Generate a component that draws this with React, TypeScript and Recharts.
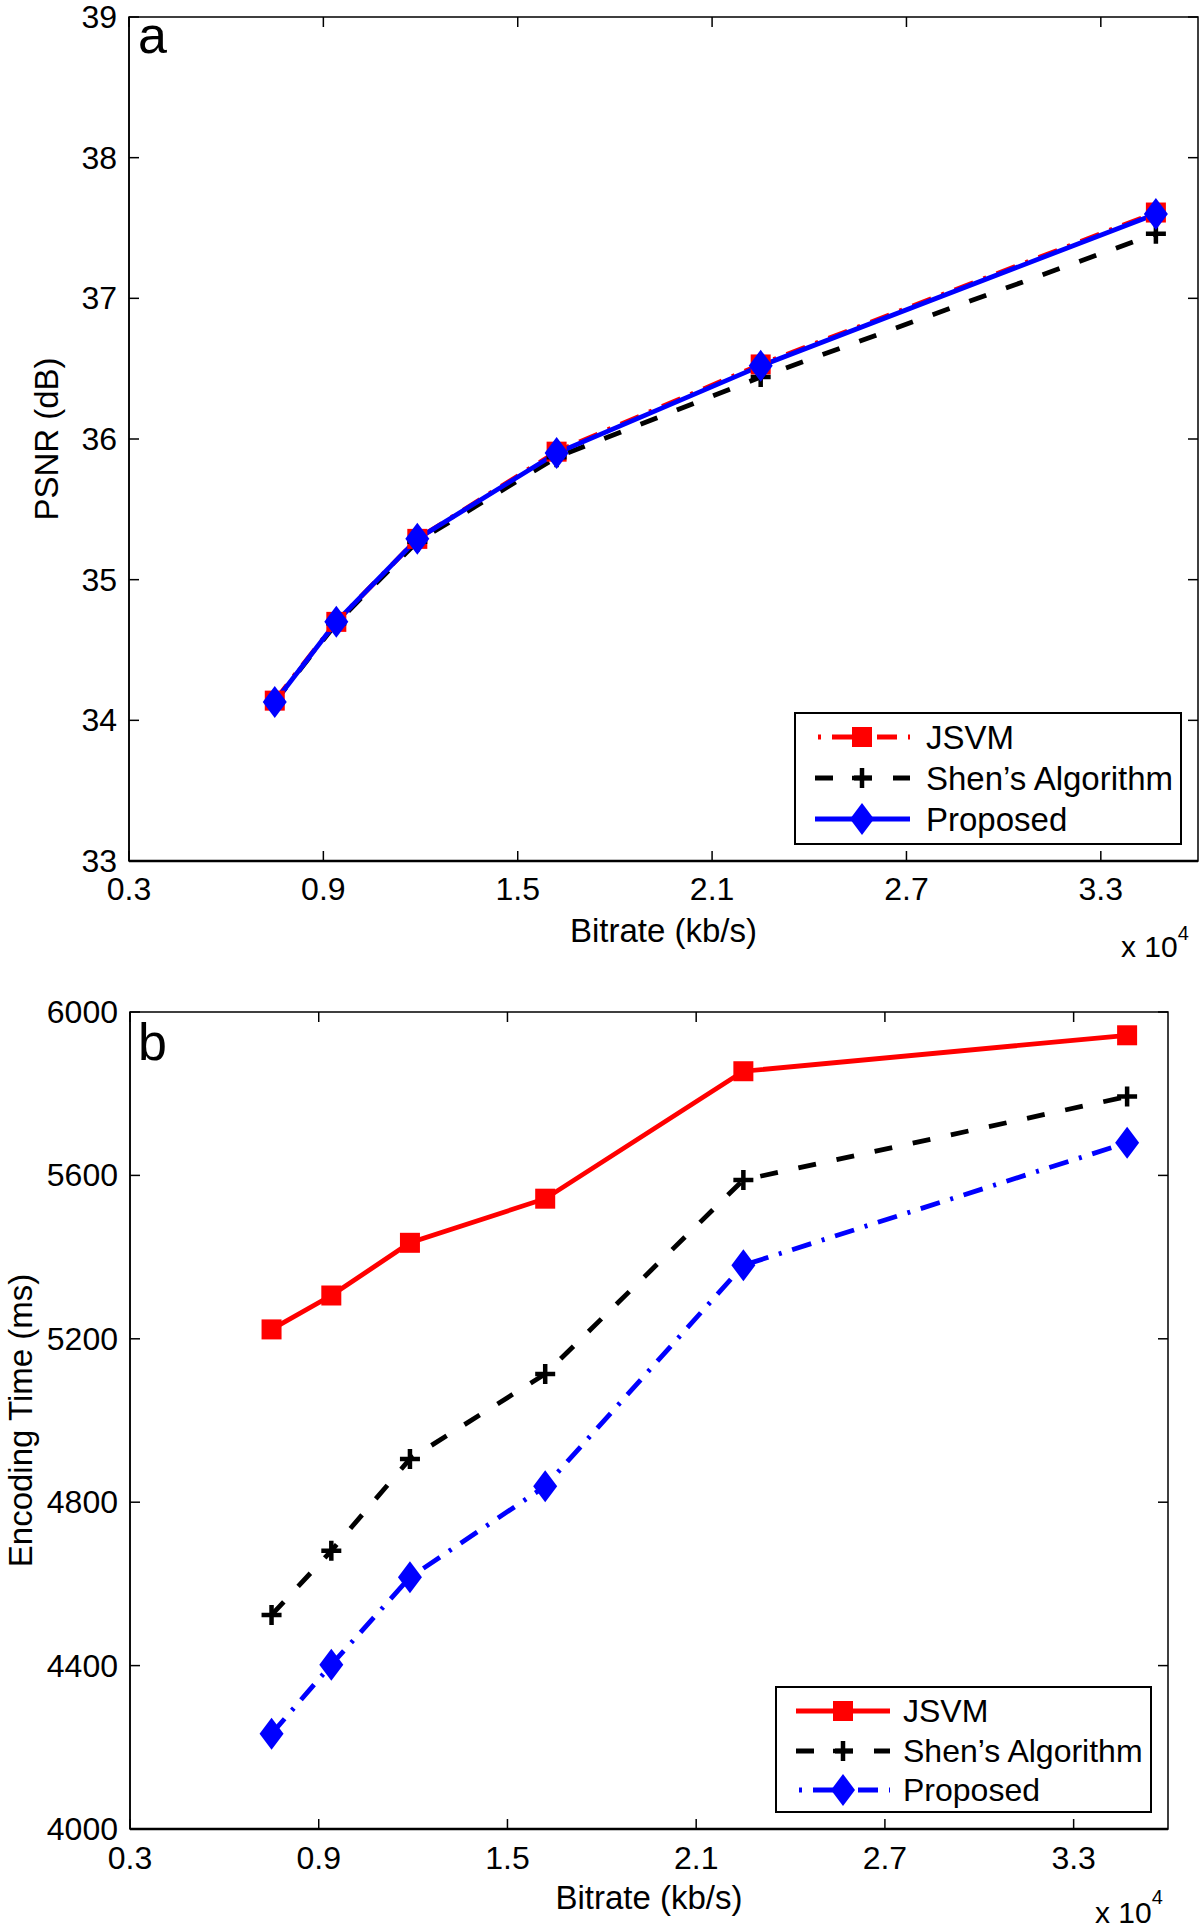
import React from "react";
import { LineChart, Line, XAxis, YAxis, ReferenceArea, Legend } from "recharts";

// bitrate, in units of 10^4 kb/s
const bitrate = [0.75, 0.94, 1.19, 1.62, 2.25, 3.47];

// panel a: PSNR (dB)
const psnrJsvm = [34.14, 34.7, 35.29, 35.91, 36.53, 37.61];
const psnrShen = [34.13, 34.69, 35.27, 35.87, 36.44, 37.46];
const psnrProposed = [34.13, 34.7, 35.29, 35.9, 36.52, 37.6];

// panel b: encoding time (ms)
const timeJsvm = [5223, 5306, 5435, 5543, 5855, 5943];
const timeShen = [4524, 4681, 4906, 5114, 5589, 5793];
const timeProposed = [4233, 4402, 4616, 4839, 5380, 5680];

const xTicks = [0.3, 0.9, 1.5, 2.1, 2.7, 3.3];
const xDomain = [0.3, 3.6];
const psnrTicks = [33, 34, 35, 36, 37, 38, 39];
const timeTicks = [4000, 4400, 4800, 5200, 5600, 6000];
const seriesNames = ["JSVM", "Shen\u2019s Algorithm", "Proposed"];

const FONT = '"Liberation Sans", Arial, Helvetica, sans-serif';
const DASH = "18 21";
const DASHDOT = "20 11 3 11";
const LW = 4.8;

type Kind = "square" | "plus" | "diamond";
type Series = { key: string; name: string; color: string; dash?: string; marker: Kind };

const rowsA = bitrate.map((b, i) => ({ bitrate: b, jsvm: psnrJsvm[i], shen: psnrShen[i], proposed: psnrProposed[i] }));
const rowsB = bitrate.map((b, i) => ({ bitrate: b, jsvm: timeJsvm[i], shen: timeShen[i], proposed: timeProposed[i] }));

const seriesA: Series[] = [
  { key: "jsvm", name: seriesNames[0], color: "#ff0000", dash: DASHDOT, marker: "square" },
  { key: "shen", name: seriesNames[1], color: "#000000", dash: DASH, marker: "plus" },
  { key: "proposed", name: seriesNames[2], color: "#0000ff", marker: "diamond" },
];
const seriesB: Series[] = [
  { key: "jsvm", name: seriesNames[0], color: "#ff0000", marker: "square" },
  { key: "shen", name: seriesNames[1], color: "#000000", dash: DASH, marker: "plus" },
  { key: "proposed", name: seriesNames[2], color: "#0000ff", dash: DASHDOT, marker: "diamond" },
];

function Marker({ kind, cx, cy, color }: { kind: Kind; cx: number; cy: number; color: string }) {
  if (kind === "square") return <rect x={cx - 10} y={cy - 10} width={20} height={20} fill={color} />;
  if (kind === "plus")
    return (
      <path d={`M${cx - 10},${cy}H${cx + 10}M${cx},${cy - 10}V${cy + 10}`} stroke={color} strokeWidth={4.5} fill="none" />
    );
  return <path d={`M${cx},${cy - 16}L${cx + 12},${cy}L${cx},${cy + 16}L${cx - 12},${cy}Z`} fill={color} />;
}

type PanelProps = {
  top: number;
  height: number;
  plot: { top: number; left: number; right: number; bottom: number };
  rows: Record<string, number>[];
  series: Series[];
  yDomain: number[];
  yTicks: number[];
  yLabel: string;
  yLabelX: number;
  letter: string;
  letterY: number;
  tickDy: number;
  xLabelDy: number;
  exp: { x: number; y: number; dy: number };
  legend: {
    left: number;
    top: number;
    width: number;
    height: number;
    rows: number[];
    textX: number;
    lineEnd: number;
    fontSize: number;
  };
};

function Panel(p: PanelProps) {
  const W = 1200;
  const { plot, legend: lg } = p;
  const midX = (plot.left + plot.right) / 2;
  const midY = (plot.top + plot.bottom) / 2;

  const xTick = (t: any) => (
    <g>
      <line x1={t.x} x2={t.x} y1={plot.bottom} y2={plot.bottom - 10} stroke="#000" strokeWidth={1.5} />
      <line x1={t.x} x2={t.x} y1={plot.top} y2={plot.top + 10} stroke="#000" strokeWidth={1.5} />
      <text x={t.x} y={plot.bottom + p.tickDy} textAnchor="middle" dominantBaseline="central" fontSize={32} fontFamily={FONT} fill="#000">
        {Number(t.payload.value).toFixed(1)}
      </text>
    </g>
  );
  const yTick = (t: any) => (
    <g>
      <line x1={plot.left} x2={plot.left + 10} y1={t.y} y2={t.y} stroke="#000" strokeWidth={1.5} />
      <line x1={plot.right} x2={plot.right - 10} y1={t.y} y2={t.y} stroke="#000" strokeWidth={1.5} />
      <text x={plot.left - 12} y={t.y} textAnchor="end" dominantBaseline="central" fontSize={32} fontFamily={FONT} fill="#000">
        {t.payload.value}
      </text>
    </g>
  );

  const legendContent = () => (
    <div
      style={{
        boxSizing: "border-box",
        width: lg.width,
        height: lg.height,
        border: "2px solid #000",
        background: "#fff",
      }}
    >
      <svg width={lg.width - 4} height={lg.height - 4} style={{ display: "block" }}>
        {p.series.map((s, i) => {
          const y = lg.rows[i] - 2;
          return (
            <g key={s.key}>
              <line
                x1={19}
                x2={lg.lineEnd - 2}
                y1={y}
                y2={y}
                stroke={s.color}
                strokeWidth={LW}
                strokeDasharray={s.dash}
                strokeDashoffset={s.dash === DASHDOT ? 28 : 0}
              />
              <Marker kind={s.marker} cx={66} cy={y} color={s.color} />
              <text x={lg.textX - 2} y={y} dominantBaseline="central" fontSize={lg.fontSize} fontFamily={FONT} fill="#000">
                {s.name}
              </text>
            </g>
          );
        })}
      </svg>
    </div>
  );

  return (
    <div style={{ position: "absolute", left: 0, top: p.top, width: W, height: p.height }}>
      <LineChart
        width={W}
        height={p.height}
        data={p.rows}
        margin={{ top: plot.top, right: W - plot.right, bottom: 0, left: 0 }}
      >
        <XAxis
          dataKey="bitrate"
          type="number"
          domain={xDomain}
          ticks={xTicks}
          interval={0}
          allowDataOverflow
          height={p.height - plot.bottom}
          tickSize={0}
          tickMargin={0}
          tickLine={false}
          axisLine={{ stroke: "#000", strokeWidth: 2.5 }}
          tick={xTick}
          label={() => (
            <text x={midX} y={plot.bottom + p.xLabelDy} textAnchor="middle" dominantBaseline="central" fontSize={33} fontFamily={FONT} fill="#000">
              Bitrate (kb/s)
            </text>
          )}
        />
        <YAxis
          type="number"
          domain={p.yDomain}
          ticks={p.yTicks}
          interval={0}
          allowDataOverflow
          width={plot.left}
          tickSize={0}
          tickMargin={0}
          tickLine={false}
          axisLine={{ stroke: "#000", strokeWidth: 1.5 }}
          tick={yTick}
          label={() => (
            <text
              x={p.yLabelX}
              y={midY}
              transform={`rotate(-90 ${p.yLabelX} ${midY})`}
              textAnchor="middle"
              dominantBaseline="central"
              fontSize={33}
              fontFamily={FONT}
              fill="#000"
            >
              {p.yLabel}
            </text>
          )}
        />
        <ReferenceArea
          x1={xDomain[0]}
          x2={xDomain[1]}
          y1={p.yDomain[0]}
          y2={p.yDomain[1]}
          fill="none"
          fillOpacity={0}
          stroke="#000"
          strokeWidth={1.5}
        />
        {p.series.map((s) => (
          <Line
            key={s.key}
            dataKey={s.key}
            name={s.name}
            type="linear"
            stroke={s.color}
            strokeWidth={LW}
            strokeDasharray={s.dash}
            isAnimationActive={false}
            activeDot={false}
            dot={(d: any) => <Marker key={`${s.key}-${d.index}`} kind={s.marker} cx={d.cx} cy={d.cy} color={s.color} />}
          />
        ))}
        <Legend
          layout="vertical"
          align="center"
          verticalAlign="middle"
          wrapperStyle={{ position: "absolute", left: lg.left, top: lg.top, width: lg.width, height: lg.height }}
          content={legendContent}
        />
      </LineChart>
      <svg width={W} height={p.height} style={{ position: "absolute", left: 0, top: 0, pointerEvents: "none" }}>
        <text x={138} y={p.letterY} fontSize={52} fontFamily={FONT} fill="#000">
          {p.letter}
        </text>
        <text x={p.exp.x} y={p.exp.y} fontSize={30} fontFamily={FONT} fill="#000">
          x 10
          <tspan dy={p.exp.dy} fontSize={20}>
            4
          </tspan>
        </text>
      </svg>
    </div>
  );
}

export default function App() {
  return (
    <div style={{ position: "relative", width: 1200, height: 1930, background: "#fff" }}>
      <style>{"body{margin:0;background:#fff}"}</style>
      <Panel
        top={0}
        height={960}
        plot={{ top: 17, left: 129, right: 1198, bottom: 861 }}
        rows={rowsA}
        series={seriesA}
        yDomain={[33, 39]}
        yTicks={psnrTicks}
        yLabel="PSNR (dB)"
        yLabelX={46}
        letter="a"
        letterY={53}
        tickDy={28}
        xLabelDy={69}
        exp={{ x: 1121, y: 957, dy: -17 }}
        legend={{ left: 794, top: 712, width: 388, height: 133, rows: [25, 66, 107], textX: 132, lineEnd: 116, fontSize: 33 }}
      />
      <Panel
        top={960}
        height={970}
        plot={{ top: 52, left: 130, right: 1168, bottom: 869 }}
        rows={rowsB}
        series={seriesB}
        yDomain={[4000, 6000]}
        yTicks={timeTicks}
        yLabel="Encoding Time (ms)"
        yLabelX={20}
        letter="b"
        letterY={100}
        tickDy={29}
        xLabelDy={68}
        exp={{ x: 1095, y: 963, dy: -19 }}
        legend={{ left: 775, top: 726, width: 377, height: 127, rows: [25, 65, 104], textX: 128, lineEnd: 115, fontSize: 32 }}
      />
    </div>
  );
}
